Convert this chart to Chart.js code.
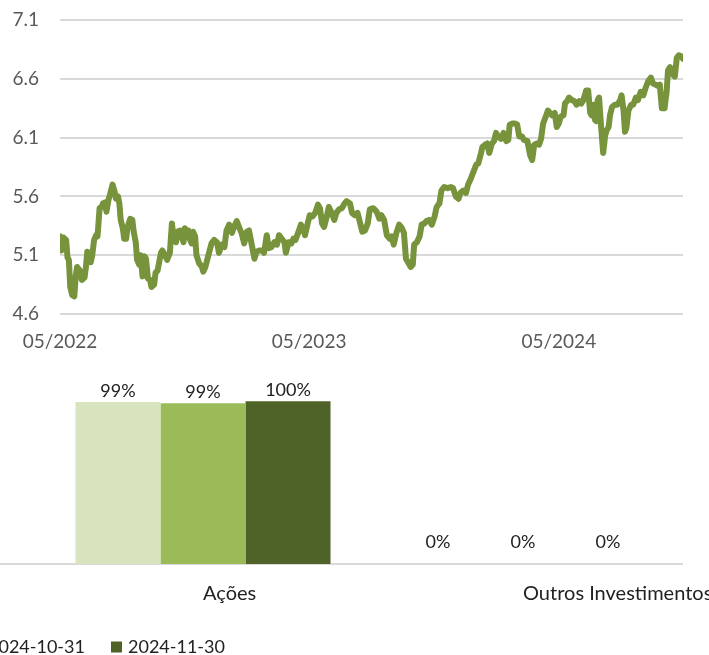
<!DOCTYPE html>
<html>
<head>
<meta charset="utf-8">
<script src="https://cdn.jsdelivr.net/npm/chart.js@4.4.1/dist/chart.umd.min.js"></script>
<style>
  body { margin: 0; background: #fff; overflow: hidden; }
  #lineBox { position: absolute; left: 0; top: 0; }
  #barBox { position: absolute; left: 0; top: 360px; }
</style>
</head>
<body>
<div id="lineBox"><canvas id="navChart" width="709" height="360"></canvas></div>
<div id="barBox"><canvas id="allocChart" width="709" height="295"></canvas></div>

<script>
// fund value history
const dates = [
    '2022-05-31', '2022-06-02', '2022-06-05', '2022-06-09', '2022-06-11', '2022-06-13', '2022-06-15', '2022-06-18', '2022-06-21', '2022-06-23', '2022-06-25', '2022-06-29',
    '2022-07-02', '2022-07-06', '2022-07-08', '2022-07-10', '2022-07-12', '2022-07-15', '2022-07-17', '2022-07-20', '2022-07-23', '2022-07-25', '2022-07-28', '2022-07-31',
    '2022-08-02', '2022-08-05', '2022-08-07', '2022-08-10', '2022-08-12', '2022-08-16', '2022-08-19', '2022-08-21', '2022-08-24', '2022-08-26', '2022-08-28', '2022-08-31',
    '2022-09-02', '2022-09-05', '2022-09-07', '2022-09-11', '2022-09-14', '2022-09-16', '2022-09-19', '2022-09-21', '2022-09-24', '2022-09-26', '2022-09-29',
    '2022-10-02', '2022-10-04', '2022-10-07', '2022-10-10', '2022-10-12', '2022-10-16', '2022-10-18', '2022-10-21', '2022-10-24', '2022-10-26', '2022-10-28',
    '2022-11-01', '2022-11-04', '2022-11-08', '2022-11-11', '2022-11-13', '2022-11-17', '2022-11-19', '2022-11-23', '2022-11-25', '2022-11-28', '2022-11-30',
    '2022-12-03', '2022-12-05', '2022-12-07', '2022-12-10', '2022-12-12', '2022-12-15', '2022-12-17', '2022-12-21', '2022-12-25', '2022-12-27', '2022-12-30',
    '2023-01-03', '2023-01-08', '2023-01-12', '2023-01-16', '2023-01-19', '2023-01-23', '2023-01-27', '2023-01-30',
    '2023-02-03', '2023-02-07', '2023-02-10', '2023-02-14', '2023-02-18', '2023-02-21', '2023-02-25',
    '2023-03-01', '2023-03-04', '2023-03-08', '2023-03-12', '2023-03-15', '2023-03-19', '2023-03-23', '2023-03-26', '2023-03-30',
    '2023-04-02', '2023-04-06', '2023-04-10', '2023-04-14', '2023-04-17', '2023-04-21', '2023-04-25', '2023-04-27',
    '2023-05-01', '2023-05-05', '2023-05-08', '2023-05-11', '2023-05-15', '2023-05-19', '2023-05-23', '2023-05-25', '2023-05-29',
    '2023-06-01', '2023-06-05', '2023-06-09', '2023-06-13', '2023-06-16', '2023-06-19', '2023-06-22', '2023-06-26', '2023-06-29',
    '2023-07-03', '2023-07-07', '2023-07-10', '2023-07-14', '2023-07-18', '2023-07-22', '2023-07-25', '2023-07-30',
    '2023-08-02', '2023-08-06', '2023-08-10', '2023-08-14', '2023-08-17', '2023-08-21', '2023-08-25', '2023-08-28',
    '2023-09-02', '2023-09-07', '2023-09-11', '2023-09-14', '2023-09-18', '2023-09-22', '2023-09-26', '2023-09-29',
    '2023-10-02', '2023-10-06', '2023-10-10', '2023-10-14', '2023-10-17', '2023-10-20', '2023-10-23', '2023-10-27', '2023-10-30',
    '2023-11-01', '2023-11-05', '2023-11-09', '2023-11-12', '2023-11-16', '2023-11-19', '2023-11-23', '2023-11-27',
    '2023-12-01', '2023-12-04', '2023-12-08', '2023-12-11', '2023-12-15', '2023-12-20', '2023-12-25', '2023-12-28',
    '2024-01-01', '2024-01-05', '2024-01-08', '2024-01-12', '2024-01-16', '2024-01-19', '2024-01-23', '2024-01-27', '2024-01-31',
    '2024-02-03', '2024-02-07', '2024-02-09', '2024-02-13', '2024-02-16', '2024-02-19', '2024-02-23', '2024-02-26', '2024-02-29',
    '2024-03-03', '2024-03-07', '2024-03-11', '2024-03-15', '2024-03-18', '2024-03-20', '2024-03-24', '2024-03-28', '2024-03-31',
    '2024-04-03', '2024-04-07', '2024-04-10', '2024-04-15', '2024-04-19', '2024-04-22', '2024-04-25', '2024-04-29',
    '2024-05-02', '2024-05-05', '2024-05-08', '2024-05-12', '2024-05-15', '2024-05-18', '2024-05-21', '2024-05-25', '2024-05-28', '2024-05-31',
    '2024-06-03', '2024-06-07', '2024-06-09', '2024-06-12', '2024-06-15', '2024-06-19', '2024-06-23', '2024-06-26', '2024-06-30',
    '2024-07-03', '2024-07-06', '2024-07-10', '2024-07-13', '2024-07-16', '2024-07-18', '2024-07-21', '2024-07-23', '2024-07-25', '2024-07-27', '2024-07-29',
    '2024-08-01', '2024-08-04', '2024-08-07', '2024-08-09', '2024-08-12', '2024-08-14', '2024-08-17', '2024-08-21', '2024-08-25', '2024-08-29', '2024-08-31',
    '2024-09-03', '2024-09-05', '2024-09-07', '2024-09-10', '2024-09-14', '2024-09-17', '2024-09-21', '2024-09-24', '2024-09-28',
    '2024-10-02', '2024-10-05', '2024-10-09', '2024-10-13', '2024-10-16', '2024-10-20', '2024-10-23', '2024-10-26', '2024-10-29',
    '2024-11-02', '2024-11-05', '2024-11-07', '2024-11-10', '2024-11-12', '2024-11-15', '2024-11-17', '2024-11-20', '2024-11-23', '2024-11-27', '2024-11-29'
];

const values = [
    5.26, 5.14, 5.25, 5.23, 5.08, 5.06, 4.83, 4.76, 4.75, 4.92, 5.00, 4.97,
    4.89, 4.91, 5.00, 5.13, 5.12, 5.04, 5.09, 5.23, 5.27, 5.26, 5.50, 5.51,
    5.54, 5.55, 5.47, 5.57, 5.61, 5.70, 5.64, 5.58, 5.60, 5.54, 5.40, 5.33,
    5.24, 5.24, 5.34, 5.41, 5.40, 5.30, 5.21, 5.06, 5.02, 5.10, 4.92,
    5.09, 5.07, 4.90, 4.89, 4.83, 4.85, 4.95, 4.97, 5.06, 5.12, 5.14,
    5.10, 5.06, 5.12, 5.37, 5.27, 5.21, 5.30, 5.31, 5.26, 5.21, 5.33,
    5.26, 5.31, 5.24, 5.20, 5.30, 5.26, 5.10, 5.03, 5.00, 4.96, 5.00,
    5.09, 5.20, 5.23, 5.21, 5.12, 5.19, 5.17, 5.31,
    5.36, 5.29, 5.34, 5.39, 5.33, 5.29, 5.20,
    5.30, 5.31, 5.19, 5.07, 5.13, 5.14, 5.14, 5.12, 5.27,
    5.16, 5.17, 5.21, 5.19, 5.27, 5.24, 5.21, 5.12,
    5.21, 5.20, 5.24, 5.23, 5.29, 5.36, 5.31, 5.27, 5.37,
    5.44, 5.43, 5.46, 5.53, 5.50, 5.37, 5.34, 5.43, 5.51,
    5.46, 5.40, 5.46, 5.49, 5.50, 5.54, 5.56, 5.54,
    5.46, 5.44, 5.46, 5.37, 5.30, 5.31, 5.37, 5.49,
    5.50, 5.47, 5.41, 5.44, 5.40, 5.27, 5.24, 5.26,
    5.19, 5.29, 5.36, 5.33, 5.29, 5.07, 5.04, 5.00, 5.02,
    5.19, 5.21, 5.26, 5.36, 5.37, 5.39, 5.40, 5.36,
    5.43, 5.51, 5.54, 5.65, 5.68, 5.67, 5.68, 5.67,
    5.60, 5.58, 5.63, 5.65, 5.63, 5.70, 5.75, 5.81, 5.87,
    5.88, 5.97, 6.02, 6.04, 6.05, 5.97, 6.05, 6.07, 6.14,
    6.11, 6.09, 6.14, 6.07, 6.08, 6.21, 6.22, 6.22, 6.21,
    6.11, 6.11, 6.08, 6.07, 5.95, 5.91, 6.04, 6.05,
    6.04, 6.09, 6.22, 6.28, 6.33, 6.31, 6.29, 6.31, 6.19, 6.22,
    6.28, 6.29, 6.39, 6.41, 6.44, 6.42, 6.41, 6.38, 6.41,
    6.39, 6.42, 6.50, 6.50, 6.31, 6.29, 6.38, 6.25, 6.24, 6.42, 6.44,
    6.19, 5.97, 6.12, 6.16, 6.19, 6.29, 6.36, 6.38, 6.38, 6.42, 6.46,
    6.32, 6.15, 6.18, 6.33, 6.38, 6.38, 6.44, 6.42, 6.49,
    6.46, 6.52, 6.58, 6.61, 6.56, 6.55, 6.54, 6.55, 6.35,
    6.35, 6.49, 6.67, 6.70, 6.66, 6.63, 6.62, 6.78, 6.80, 6.79, 6.77
];

const tickDates = ['2022-05-31', '2023-05-31', '2024-05-31'];
const tickLabels = ['05/2022', '05/2023', '05/2024'];

// allocation by asset class
const categories = ['Ações', 'Outros Investimentos'];
const seriesLabels = ['2024-09-30', '2024-10-31', '2024-11-30'];
const allocSep = [99.4, 0];
const allocOct = [98.6, 0];
const allocNov = [99.8, 0];

const DAY = 86400000;
const start = Date.parse(dates[0]);
const toDay = d => Math.round((Date.parse(d) - start) / DAY);
const tickDays = tickDates.map(toDay);

new Chart(document.getElementById('navChart'), {
    type: 'line',
    data: {
        datasets: [{
            data: dates.map((d, i) => ({ x: toDay(d), y: values[i] })),
            borderColor: '#77933c',
            borderWidth: 6,
            borderJoinStyle: 'round',
            borderCapStyle: 'round',
            pointRadius: 0,
            tension: 0
        }]
    },
    options: {
        responsive: false,
        animation: false,
        layout: { padding: { top: 20, right: 26, left: 0, bottom: 0 } },
        plugins: { legend: { display: false }, tooltip: { enabled: false } },
        scales: {
            x: {
                type: 'linear',
                min: 0,
                max: toDay(dates[dates.length - 1]),
                grid: { display: false },
                border: { display: false },
                afterBuildTicks: s => { s.ticks = tickDays.map(v => ({ value: v })); },
                afterFit: s => { s.height = 46; s.paddingLeft = 0; s.paddingRight = 0; },
                ticks: {
                    autoSkip: false,
                    maxRotation: 0,
                    padding: 8,
                    color: '#595959',
                    font: { family: 'Lato', size: 19 },
                    callback: v => tickLabels[tickDays.indexOf(v)]
                }
            },
            y: {
                min: 4.6,
                max: 7.1,
                grid: { color: '#d9d9d9', lineWidth: 2, drawTicks: false },
                border: { display: false },
                afterFit: s => { s.width = 60; s.paddingTop = 0; s.paddingBottom = 0; },
                ticks: {
                    stepSize: 0.5,
                    padding: 21,
                    color: '#595959',
                    font: { family: 'Lato', size: 19 },
                    callback: v => v.toFixed(1)
                }
            }
        }
    }
});

// axis line, value labels and the legend row under the bars
const barExtras = {
    id: 'barExtras',
    beforeDatasetsDraw(chart) {
        const { ctx, chartArea } = chart;
        ctx.save();
        ctx.strokeStyle = '#d9d9d9';
        ctx.lineWidth = 2;
        ctx.beginPath();
        ctx.moveTo(0, chartArea.bottom);
        ctx.lineTo(chartArea.right, chartArea.bottom);
        ctx.stroke();
        ctx.restore();
    },
    afterDatasetsDraw(chart) {
        const { ctx } = chart;
        const sets = chart.data.datasets;
        ctx.save();
        ctx.font = '18px Lato';
        ctx.fillStyle = '#222';
        ctx.textAlign = 'center';
        ctx.textBaseline = 'middle';
        sets.forEach((ds, i) => {
            chart.getDatasetMeta(i).data.forEach((bar, j) => {
                const y = Math.min(bar.y, bar.base - 11) - 11;
                ctx.fillText(Math.round(ds.data[j]) + '%', bar.x, y);
            });
        });

        ctx.textAlign = 'left';
        const ly = chart.height - 8;
        sets.forEach((ds, i) => {
            const x = 111 - (sets.length - 1 - i) * 140;
            ctx.fillStyle = ds.backgroundColor;
            ctx.fillRect(x, ly - 5.5, 11, 11);
            ctx.fillStyle = '#222';
            ctx.fillText(ds.label, x + 17, ly);
        });
        ctx.restore();
    }
};

new Chart(document.getElementById('allocChart'), {
    type: 'bar',
    data: {
        labels: categories,
        datasets: [
            { label: seriesLabels[0], data: allocSep, backgroundColor: '#d7e4bd' },
            { label: seriesLabels[1], data: allocOct, backgroundColor: '#9bbb59' },
            { label: seriesLabels[2], data: allocNov, backgroundColor: '#4f6228' }
        ]
    },
    options: {
        responsive: false,
        animation: false,
        categoryPercentage: 0.797,
        barPercentage: 1,
        layout: { padding: { top: 41, left: 43, right: 26, bottom: 0 } },
        plugins: { legend: { display: false }, tooltip: { enabled: false } },
        scales: {
            x: {
                grid: { display: false },
                border: { display: false },
                afterFit: s => { s.height = 91; s.paddingLeft = 0; s.paddingRight = 0; },
                ticks: {
                    align: 'start',
                    autoSkip: false,
                    maxRotation: 0,
                    padding: 10,
                    color: '#222',
                    font: { family: 'Lato', size: 20 }
                }
            },
            y: { display: false, min: 0, max: 100 }
        }
    },
    plugins: [barExtras]
});
</script>
</body>
</html>
